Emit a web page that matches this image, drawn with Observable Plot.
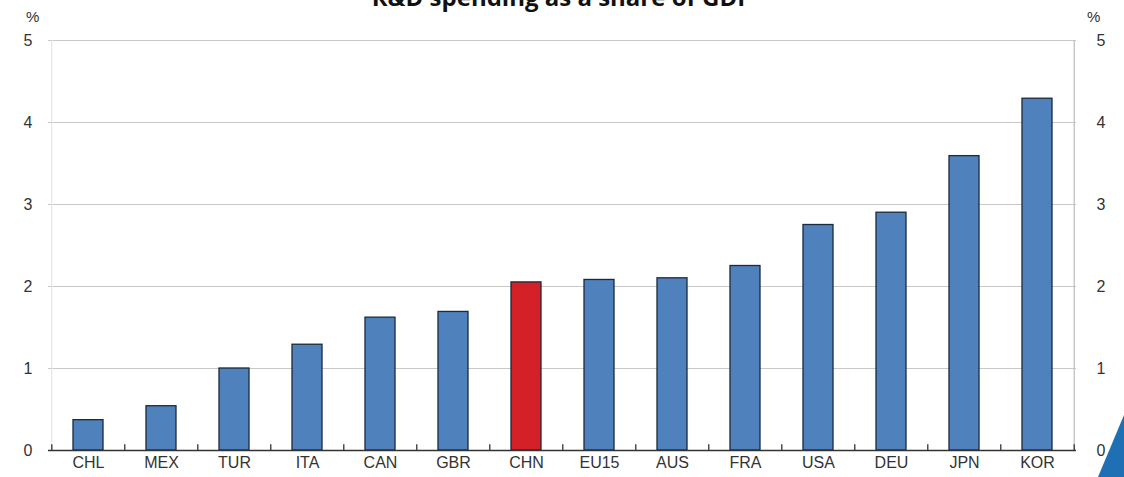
<!DOCTYPE html>
<html>
<head>
<meta charset="utf-8">
<script src="https://cdn.jsdelivr.net/npm/d3@7"></script>
<script src="https://cdn.jsdelivr.net/npm/@observablehq/plot@0.6"></script>
<style>
  html, body { margin: 0; padding: 0; background: #fff; width: 1124px; height: 477px; overflow: hidden; }
  #wrap { position: relative; width: 1124px; height: 477px; }
  #title { position: absolute; left: 0; width: 1124px; top: -18px; text-align: center;
           font: bold 24px "Open Sans", "Liberation Sans", sans-serif; color: #111; margin: 0; line-height: 30px; }
  .pct { position: absolute; top: 8px; font: 15px "Liberation Sans Narrow", "Liberation Sans", sans-serif; color: #333; }
  #corner { position: absolute; right: 0; bottom: 0; width: 26px; height: 62px; background: #1f6fb5;
            clip-path: polygon(100% 0, 100% 100%, 0 100%); }
</style>
</head>
<body>
<div id="wrap">
  <div id="title">R&amp;D spending as a share of GDP</div>
  <div class="pct" style="left:26px">%</div>
  <div class="pct" style="left:1087px">%</div>
  <div id="chart"></div>
  <div id="corner"></div>
</div>
<script>
const countries = ["CHL","MEX","TUR","ITA","CAN","GBR","CHN","EU15","AUS","FRA","USA","DEU","JPN","KOR"];
const values = [0.37, 0.54, 1.00, 1.29, 1.62, 1.69, 2.05, 2.08, 2.10, 2.25, 2.75, 2.90, 3.59, 4.29];
const highlight = "CHN";
const yTicks = [0, 1, 2, 3, 4, 5];

const data = countries.map((c, i) => ({country: c, value: values[i]}));
const W = 1124, H = 477, mL = 48, mR = 48;
const step = (W - mL - mR) / countries.length;

const chart = Plot.plot({
  width: W,
  height: H,
  marginTop: 40,
  marginBottom: 27,
  marginLeft: mL,
  marginRight: mR,
  style: {fontFamily: "'Liberation Sans Narrow', 'Liberation Sans', sans-serif", fontSize: "16px", color: "#333", background: "#fff"},
  x: {domain: countries, paddingInner: 0.59, paddingOuter: 0.295, align: 0.5, label: null},
  y: {domain: [0, 5], label: null},
  marks: [
    Plot.gridY(yTicks.filter(d => d > 0), {stroke: "#c8c8c8", strokeOpacity: 1, strokeWidth: 1.2}),
    Plot.ruleX([countries[0]], {x: d => d, dx: -step / 2, y1: 0, y2: 5, stroke: "#e2e2e2"}),
    Plot.ruleX([countries[countries.length - 1]], {x: d => d, dx: step / 2, y1: 0, y2: 5, stroke: "#bbb", strokeWidth: 1.2}),
    Plot.barY(data, {x: "country", y: "value", fill: d => d.country === highlight ? "#d42027" : "#4f81bd",
                     stroke: "#1b2a3c", strokeWidth: 1.3}),
    Plot.ruleY([0], {stroke: "#333", strokeWidth: 1.5}),
    Plot.ruleX(countries, {x: d => d, dx: -step / 2, y1: 0, y2: 0.07, stroke: "#333", strokeWidth: 1.3}),
    Plot.ruleX([countries[countries.length - 1]], {x: d => d, dx: step / 2, y1: 0, y2: 0.07, stroke: "#333", strokeWidth: 1.3}),
    Plot.axisY(yTicks, {anchor: "left", tickSize: 0, tickPadding: 16, fontSize: 16, tickFormat: d3.format("d")}),
    Plot.axisY(yTicks, {anchor: "right", tickSize: 0, tickPadding: 20, fontSize: 16, tickFormat: d3.format("d")}),
    Plot.axisX({tickSize: 0, tickPadding: 6, fontSize: 16})
  ]
});
document.getElementById("chart").appendChild(chart);
</script>
</body>
</html>
